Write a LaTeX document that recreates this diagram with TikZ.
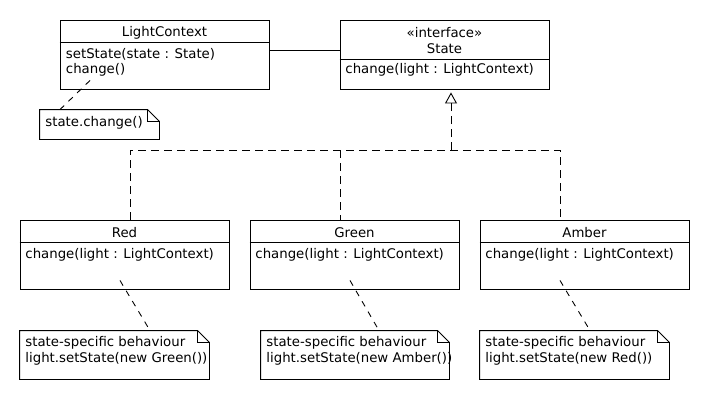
\documentclass[tikz,border=0pt]{standalone}
\usepackage{fontspec}
\setmainfont{DejaVu Sans}
\usetikzlibrary{arrows.meta}
\begin{document}
\begin{tikzpicture}[x=1pt,y=-1pt,line width=0.9pt,
  classbox/.style={draw, inner sep=0, minimum width=209pt, minimum height=69pt},
  notebox/.style={inner sep=0},
  txt/.style={font=\fontsize{13.3}{16}\selectfont, inner sep=0},
  lefttxt/.style={txt, anchor=west},
  reldash/.style={dash pattern=on 8pt off 5pt},
  notedash/.style={dash pattern=on 6pt off 6pt}]
\useasboundingbox (0,0) rectangle (710,400);

% classes
\node[classbox] (lc) at (164.5,54.5) {};
\draw (lc.north west) ++(0,23) -- ++(209,0);
\node[txt] (lct) at (164.5,33) {LightContext};
\node[lefttxt] (lcm1) at (65.5,54) {setState(state : State)};
\node[lefttxt] (lcm2) at (65.5,70) {change()};

\node[classbox] (state) at (444.5,54.5) {};
\draw (state.north west) ++(0,40) -- ++(209,0);
\node[txt] (st1) at (444.5,33) {«interface»};
\node[txt] (st2) at (444.5,49) {State};
\node[lefttxt] (stm) at (345,70) {change(light : LightContext)};

\node[classbox] (red) at (124.5,254.5) {};
\draw (red.north west) ++(0,23) -- ++(209,0);
\node[txt] (redt) at (124.5,233) {Red};
\node[lefttxt] (redm) at (25,255) {change(light : LightContext)};

\node[classbox] (green) at (354.5,254.5) {};
\draw (green.north west) ++(0,23) -- ++(209,0);
\node[txt] (greent) at (354.5,233) {Green};
\node[lefttxt] (greenm) at (255,255) {change(light : LightContext)};

\node[classbox] (amber) at (584.5,254.5) {};
\draw (amber.north west) ++(0,23) -- ++(209,0);
\node[txt] (ambert) at (584.5,233) {Amber};
\node[lefttxt] (amberm) at (485,255) {change(light : LightContext)};

% association
\draw ([yshift=4.5pt]lc.east) -- ([yshift=4.5pt]state.west);

% realization
\coordinate (hubL) at (130,150);
\coordinate (hubG) at (340,150);
\coordinate (hub) at (451,150);
\coordinate (hubR) at (560,150);
\draw[reldash] (red.north -| hubL) -- (hubL) -- (hubR) -- (amber.north -| hubR);
\draw[reldash] (hubG) -- (green.north -| hubG);
\draw[reldash, -{Triangle[open, length=11pt, width=12pt]}] (hub) -- ([xshift=6.5pt,yshift=-3pt]state.south);

% notes
\newcommand{\notepath}[1]{%
  \draw (#1.south west) -- (#1.north west) -- ([xshift=-12pt]#1.north east)
    -- ([yshift=-12pt]#1.north east) -- (#1.south east) -- cycle;
  \draw ([xshift=-12pt]#1.north east) |- ([yshift=-12pt]#1.north east);}

\node[notebox, minimum width=119pt, minimum height=29pt] (nlc) at (99.5,124.5) {};
\notepath{nlc}
\node[lefttxt] (nlct) at (45,123) {state.change()};

\node[notebox, minimum width=189pt, minimum height=48pt] (nred) at (114.5,355) {};
\notepath{nred}
\node[lefttxt] (nred1) at (25,343) {state-specific behaviour};
\node[lefttxt] (nred2) at (25,359) {light.setState(new Green())};

\node[notebox, minimum width=188pt, minimum height=48pt] (ngreen) at (355,355) {};
\notepath{ngreen}
\node[lefttxt] (ngreen1) at (266,343) {state-specific behaviour};
\node[lefttxt] (ngreen2) at (266,359) {light.setState(new Amber())};

\node[notebox, minimum width=189pt, minimum height=48pt] (namber) at (574.5,355) {};
\notepath{namber}
\node[lefttxt] (namber1) at (485,343) {state-specific behaviour};
\node[lefttxt] (namber2) at (485,359) {light.setState(new Red())};

% note anchors
\draw[notedash] ([shift={(-74.5,-9)}]lc.south) -- ([xshift=-39.5pt]nlc.north);
\draw[notedash] ([shift={(-4.5,-9)}]red.south) -- ([xshift=35.5pt]nred.north);
\draw[notedash] ([shift={(-4.5,-9)}]green.south) -- ([xshift=24pt]ngreen.north);
\draw[notedash] ([shift={(-24.5,-9)}]amber.south) -- ([xshift=15.5pt]namber.north);
\end{tikzpicture}
\end{document}
